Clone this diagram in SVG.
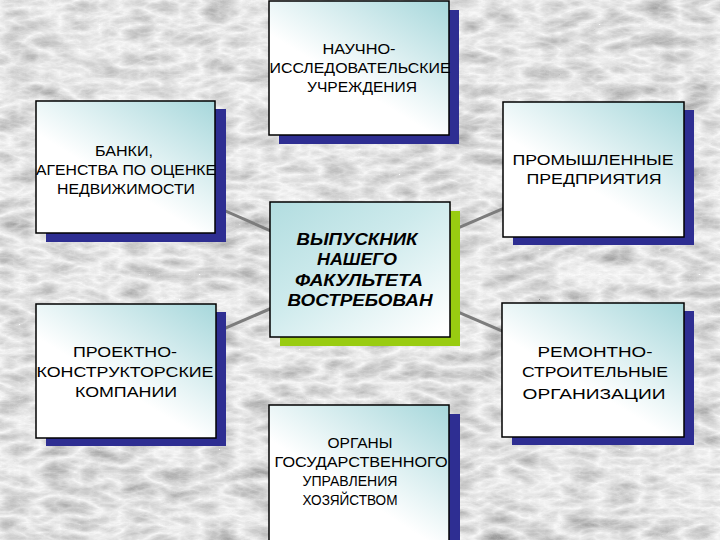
<svg xmlns="http://www.w3.org/2000/svg" width="720" height="540" viewBox="0 0 720 540">
<style>
.box{stroke:#000;stroke-width:1.5}
.sh{fill:#2e2e92}
.shg{fill:#99cc11}
.t{font-family:"Liberation Sans",Arial,sans-serif;font-size:14.5px;fill:#000;text-anchor:middle}
.tb{font-family:"Liberation Sans",Arial,sans-serif;font-size:16px;font-weight:bold;font-style:italic;fill:#000;text-anchor:middle}
.con{stroke:#7c7c7c;stroke-width:3;fill:none}
</style>
<defs>
<filter id="marble" x="0" y="0" width="100%" height="100%">
<feTurbulence type="turbulence" baseFrequency="0.025 0.06" numOctaves="5" seed="7" result="n"/>
<feColorMatrix in="n" type="matrix" values="-0.7 0 0 0 0.97  -0.7 0 0 0 0.97  -0.7 0 0 0 0.97  0 0 0 0 1"/>
</filter>
<linearGradient id="g" x1="1" y1="0" x2="0.3" y2="0.85">
<stop offset="0" stop-color="#a6d7db"/>
<stop offset="0.75" stop-color="#ffffff"/>
</linearGradient>
<linearGradient id="gc" x1="0" y1="0" x2="0.9" y2="1">
<stop offset="0" stop-color="#b2dde0"/>
<stop offset="0.45" stop-color="#cdeaec"/>
<stop offset="1" stop-color="#ffffff"/>
</linearGradient>
</defs>
<rect width="720" height="540" fill="#e0e0e0"/>
<rect width="720" height="540" filter="url(#marble)"/>
<g id="connectors">
<line class="con" x1="360" y1="270" x2="125" y2="167"/>
<line class="con" x1="360" y1="270" x2="593" y2="170"/>
<line class="con" x1="360" y1="270" x2="126" y2="371"/>
<line class="con" x1="360" y1="270" x2="593" y2="370"/>
</g>
<g id="n-top">
<rect class="sh" x="279" y="10" width="180" height="134"/>
<rect class="box" x="269" y="1" width="180" height="134" fill="url(#g)"/>
<text class="t"><tspan x="359" y="54" textLength="73" lengthAdjust="spacingAndGlyphs">НАУЧНО-</tspan><tspan x="360" y="73" textLength="181" lengthAdjust="spacingAndGlyphs">ИССЛЕДОВАТЕЛЬСКИЕ</tspan><tspan x="362" y="92" textLength="110" lengthAdjust="spacingAndGlyphs">УЧРЕЖДЕНИЯ</tspan></text>
</g>
<g id="n-banks">
<rect class="sh" x="46" y="109" width="180" height="133"/>
<rect class="box" x="36" y="101" width="179" height="132" fill="url(#g)"/>
<text class="t"><tspan x="124" y="156" textLength="58" lengthAdjust="spacingAndGlyphs">БАНКИ,</tspan><tspan x="126" y="175" textLength="180" lengthAdjust="spacingAndGlyphs">АГЕНСТВА ПО ОЦЕНКЕ</tspan><tspan x="126" y="194" textLength="138" lengthAdjust="spacingAndGlyphs">НЕДВИЖИМОСТИ</tspan></text>
</g>
<g id="n-industry">
<rect class="sh" x="513" y="110" width="181" height="135"/>
<rect class="box" x="503" y="102" width="181" height="135" fill="url(#g)"/>
<text class="t" font-size="16"><tspan x="593" y="165" textLength="161" lengthAdjust="spacingAndGlyphs">ПРОМЫШЛЕННЫЕ</tspan><tspan x="594" y="184" textLength="135" lengthAdjust="spacingAndGlyphs">ПРЕДПРИЯТИЯ</tspan></text>
</g>
<g id="n-center">
<rect class="shg" x="280" y="211" width="180" height="135"/>
<rect class="box" x="270" y="202" width="180" height="135" fill="url(#gc)"/>
<text class="tb"><tspan x="357" y="245" textLength="121" lengthAdjust="spacingAndGlyphs">ВЫПУСКНИК</tspan><tspan x="357" y="265" textLength="80" lengthAdjust="spacingAndGlyphs">НАШЕГО</tspan><tspan x="359" y="286" textLength="128" lengthAdjust="spacingAndGlyphs">ФАКУЛЬТЕТА</tspan><tspan x="360" y="306" textLength="145" lengthAdjust="spacingAndGlyphs">ВОСТРЕБОВАН</tspan></text>
</g>
<g id="n-design">
<rect class="sh" x="46" y="312" width="180" height="134"/>
<rect class="box" x="36" y="304" width="180" height="134" fill="url(#g)"/>
<text class="t" font-size="16.5"><tspan x="125" y="357" textLength="104" lengthAdjust="spacingAndGlyphs">ПРОЕКТНО-</tspan><tspan x="125" y="377" textLength="177" lengthAdjust="spacingAndGlyphs">КОНСТРУКТОРСКИЕ</tspan><tspan x="126" y="397" textLength="102" lengthAdjust="spacingAndGlyphs">КОМПАНИИ</tspan></text>
</g>
<g id="n-repair">
<rect class="sh" x="512" y="311" width="182" height="134"/>
<rect class="box" x="502" y="303" width="182" height="134" fill="url(#g)"/>
<text class="t" font-size="16.5"><tspan x="595" y="357" textLength="115" lengthAdjust="spacingAndGlyphs">РЕМОНТНО-</tspan><tspan x="595" y="377" textLength="146" lengthAdjust="spacingAndGlyphs">СТРОИТЕЛЬНЫЕ</tspan><tspan x="594" y="399" textLength="143" lengthAdjust="spacingAndGlyphs">ОРГАНИЗАЦИИ</tspan></text>
</g>
<g id="n-gov">
<rect class="sh" x="279" y="414" width="181" height="140"/>
<rect class="box" x="269" y="405" width="180" height="140" fill="url(#g)"/>
<text class="t"><tspan x="360" y="448" textLength="65" lengthAdjust="spacingAndGlyphs">ОРГАНЫ</tspan><tspan x="361" y="467" textLength="173" lengthAdjust="spacingAndGlyphs">ГОСУДАРСТВЕННОГО</tspan><tspan x="350" y="486" textLength="95" lengthAdjust="spacingAndGlyphs">УПРАВЛЕНИЯ</tspan><tspan x="350" y="505" textLength="95" lengthAdjust="spacingAndGlyphs">ХОЗЯЙСТВОМ</tspan></text>
</g>
</svg>
